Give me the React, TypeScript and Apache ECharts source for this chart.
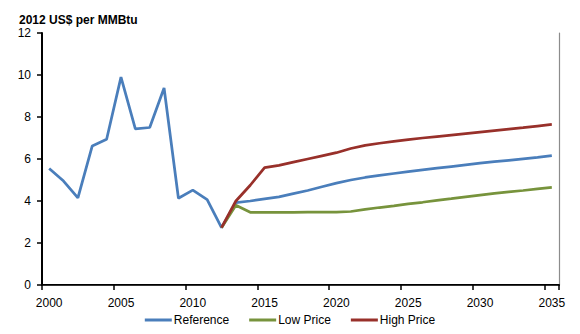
import React, { useEffect, useRef } from "react";
import * as echarts from "echarts";

const years: string[] = [];
for (let y = 2000; y <= 2035; y++) years.push(String(y));

const reference = [
  5.55, 4.95, 4.15, 6.62, 6.94, 9.9, 7.44, 7.5, 9.38, 4.13, 4.52, 4.07, 2.73,
  3.92, 4.0, 4.1, 4.2, 4.35, 4.5, 4.68, 4.85, 5.0, 5.12, 5.22, 5.31, 5.4, 5.48,
  5.56, 5.64, 5.72, 5.8, 5.87, 5.94, 6.01, 6.08, 6.16,
];

const lowPrice = [
  null, null, null, null, null, null, null, null, null, null, null, null, 2.73,
  3.8, 3.46, 3.46, 3.46, 3.46, 3.47, 3.47, 3.47, 3.5, 3.6, 3.69, 3.77, 3.86,
  3.94, 4.03, 4.11, 4.2, 4.28, 4.36, 4.43, 4.5, 4.58, 4.65,
];

const highPrice = [
  null, null, null, null, null, null, null, null, null, null, null, null, 2.73,
  4.0, 4.75, 5.59, 5.7, 5.85, 6.0, 6.15, 6.3, 6.5, 6.65, 6.75, 6.84, 6.92, 7.0,
  7.07, 7.14, 7.21, 7.28, 7.35, 7.42, 7.49, 7.57, 7.65,
];

const yTicks = { min: 0, max: 12, interval: 2 };

const FONT = "Liberation Sans";

export default function App() {
  const ref = useRef<HTMLDivElement>(null);

  useEffect(() => {
    if (!ref.current) return;
    const chart = echarts.init(ref.current, undefined, { renderer: "svg" });
    const lineSeries = (name: string, data: (number | null)[], color: string) => ({
      name,
      type: "line",
      data,
      xAxisIndex: 0,
      yAxisIndex: 0,
      showSymbol: false,
      symbol: "none",
      lineStyle: { color, width: 2.75 },
      itemStyle: { color },
      connectNulls: false,
    });
    chart.setOption({
      animation: false,
      backgroundColor: "#ffffff",
      title: {
        text: "2012 US$ per MMBtu",
        left: 14,
        top: 9,
        textStyle: { fontFamily: FONT, fontSize: 12, fontWeight: "bold", color: "#000" },
      },
      legend: {
        bottom: 3,
        left: "center",
        icon: "rect",
        itemWidth: 27,
        itemHeight: 3,
        itemGap: 20,
        textStyle: { fontFamily: FONT, fontSize: 12, color: "#000", padding: [0, 0, 0, -3] },
        data: ["Reference", "Low Price", "High Price"],
      },
      grid: { left: 42, right: 21, top: 33, bottom: 49 },
      xAxis: [
        {
          type: "category",
          data: years,
          boundaryGap: true,
          axisLine: { show: true, lineStyle: { color: "#000", width: 2 } },
          axisTick: { show: true, interval: 4, length: 5, lineStyle: { color: "#000", width: 1.5 } },
          axisLabel: { interval: 4, margin: 12, fontFamily: FONT, fontSize: 12, color: "#000" },
          splitLine: { show: false },
        },
        {
          type: "category",
          data: years,
          position: "top",
          axisLine: { show: true, lineStyle: { color: "#333", width: 1.2 } },
          axisTick: { show: false },
          axisLabel: { show: false },
          splitLine: { show: false },
        },
      ],
      yAxis: [
        {
          type: "value",
          min: yTicks.min,
          max: yTicks.max,
          interval: yTicks.interval,
          axisLine: { show: true, lineStyle: { color: "#000", width: 2 } },
          axisTick: { show: true, length: 5, lineStyle: { color: "#000", width: 1.5 } },
          axisLabel: { margin: 11, fontFamily: FONT, fontSize: 12, color: "#000" },
          splitLine: { show: false },
        },
        {
          type: "value",
          min: yTicks.min,
          max: yTicks.max,
          interval: yTicks.interval,
          position: "right",
          axisLine: { show: true, lineStyle: { color: "#8c8c8c", width: 1.2 } },
          axisTick: { show: false },
          axisLabel: { show: false },
          splitLine: { show: false },
        },
      ],
      series: [
        lineSeries("Reference", reference, "#4A7EBB"),
        lineSeries("Low Price", lowPrice, "#77933C"),
        lineSeries("High Price", highPrice, "#98302A"),
      ],
    });
    return () => chart.dispose();
  }, []);

  return (
    <div
      ref={ref}
      style={{ position: "fixed", left: 0, top: 0, width: 580, height: 334 }}
    />
  );
}
